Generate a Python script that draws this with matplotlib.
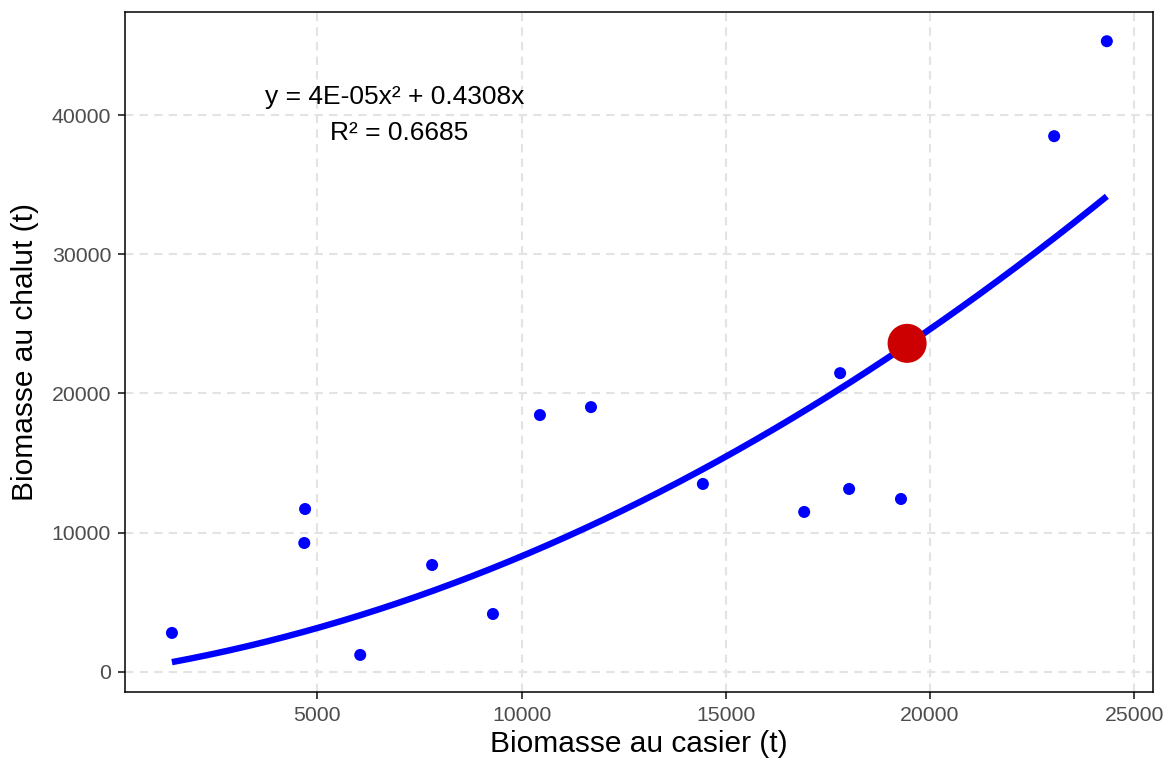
import numpy as np
import matplotlib
matplotlib.use("Agg")
import matplotlib.pyplot as plt

plt.rcParams['font.family'] = ['Liberation Sans', 'DejaVu Sans']

# biomasse estimates (t)
casier = [1440, 4700, 4680, 6050, 7810, 9300, 10450, 11700, 14440, 16920,
          17800, 18020, 19290, 23040, 24330]
chalut = [2800, 11700, 9260, 1220, 7680, 4160, 18450, 19020, 13500, 11490,
          21460, 13140, 12420, 38480, 45300]

# highlighted point
casier_hl = [19440]
chalut_hl = [23600]

# fitted polynomial through origin
coef_a = 4e-05
coef_b = 0.4308
eq_text = "y = 4E-05x\u00b2 + 0.4308x"
r2_text = "R\u00b2 = 0.6685"

xticks = [5000, 10000, 15000, 20000, 25000]
yticks = [0, 10000, 20000, 30000, 40000]

fig = plt.figure(figsize=(11.69, 7.63), dpi=100)
ax = fig.add_axes([0.1069, 0.0931, 0.8794, 0.8912])

xs = np.linspace(min(casier), max(casier), 200)
ax.plot(xs, coef_a * xs ** 2 + coef_b * xs, color='#0000ff', lw=4.6,
        solid_capstyle='butt', zorder=3)
ax.scatter(casier, chalut, s=75, color='#0000ff', edgecolors='none', zorder=4)
ax.scatter(casier_hl, chalut_hl, s=790, color='#cc0000', edgecolors='none', zorder=5)

ax.text(6900, 41280, eq_text, ha='center', va='center', fontsize=19)
ax.text(7000, 38700, r2_text, ha='center', va='center', fontsize=19)

ax.set_xlim(290, 25460)
ax.set_ylim(-1440, 47400)
ax.set_xticks(xticks)
ax.set_yticks(yticks)
ax.grid(True, color='#e3e3e3', linestyle=(0, (4, 3)), lw=1.5)
ax.set_axisbelow(True)
ax.tick_params(colors='#333333', labelcolor='#4d4d4d', labelsize=15.3,
               length=5, width=1.3, pad=5)
for sp in ax.spines.values():
    sp.set_color('black')
    sp.set_linewidth(1.1)

ax.set_xlabel("Biomasse au casier (t)", fontsize=21.5, labelpad=4)
ax.set_ylabel("Biomasse au chalut (t)", fontsize=21.5, labelpad=9)

fig.savefig("out.png", dpi=100)
